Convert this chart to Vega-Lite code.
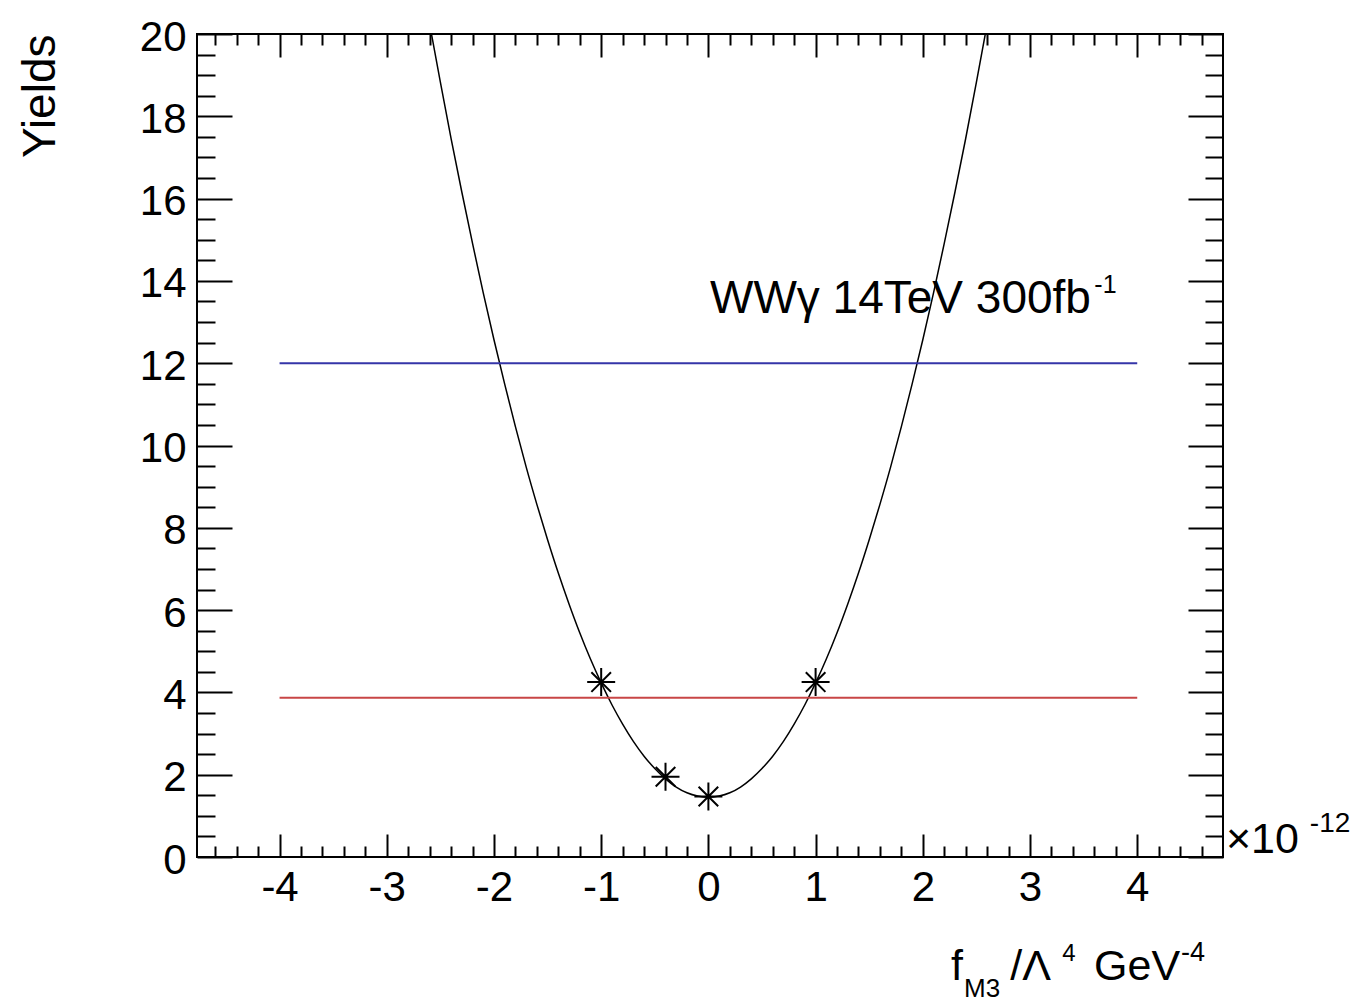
{
  "$schema": "https://vega.github.io/schema/vega-lite/v6.json",
  "width": 1026,
  "height": 823,
  "autosize": {"type": "none"},
  "padding": {"left": 197, "top": 34, "right": 139, "bottom": 147},
  "background": "white",
  "config": {
    "view": {"stroke": "black", "strokeWidth": 2},
    "axis": {"grid": false, "domain": false, "tickColor": "black", "tickWidth": 2, "labelFont": "Liberation Sans", "labelColor": "black", "labelFlush": false, "labelOverlap": false, "labelBound": false, "titleFont": "Liberation Sans", "titleColor": "black", "titleFontWeight": "normal"},
    "text": {"font": "Liberation Sans", "color": "black"}
  },
  "datasets": {
    "curve": [
      {"f": -2.6, "yields": 20.24}, {"f": -2.5, "yields": 18.83}, {"f": -2.4, "yields": 17.46}, {"f": -2.3, "yields": 16.16},
      {"f": -2.2, "yields": 14.91}, {"f": -2.1, "yields": 13.71}, {"f": -2.0, "yields": 12.57}, {"f": -1.9, "yields": 11.49},
      {"f": -1.8, "yields": 10.46}, {"f": -1.7, "yields": 9.48}, {"f": -1.6, "yields": 8.57}, {"f": -1.5, "yields": 7.71},
      {"f": -1.4, "yields": 6.90}, {"f": -1.3, "yields": 6.15}, {"f": -1.2, "yields": 5.45}, {"f": -1.1, "yields": 4.81},
      {"f": -1.0, "yields": 4.23}, {"f": -0.9, "yields": 3.70}, {"f": -0.8, "yields": 3.23}, {"f": -0.7, "yields": 2.81},
      {"f": -0.6, "yields": 2.45}, {"f": -0.5, "yields": 2.15}, {"f": -0.4, "yields": 1.90}, {"f": -0.3, "yields": 1.70},
      {"f": -0.2, "yields": 1.56}, {"f": -0.1, "yields": 1.48}, {"f": 0.0, "yields": 1.45}, {"f": 0.1, "yields": 1.48},
      {"f": 0.2, "yields": 1.56}, {"f": 0.3, "yields": 1.70}, {"f": 0.4, "yields": 1.90}, {"f": 0.5, "yields": 2.15},
      {"f": 0.6, "yields": 2.45}, {"f": 0.7, "yields": 2.81}, {"f": 0.8, "yields": 3.23}, {"f": 0.9, "yields": 3.70},
      {"f": 1.0, "yields": 4.23}, {"f": 1.1, "yields": 4.81}, {"f": 1.2, "yields": 5.45}, {"f": 1.3, "yields": 6.15},
      {"f": 1.4, "yields": 6.90}, {"f": 1.5, "yields": 7.71}, {"f": 1.6, "yields": 8.57}, {"f": 1.7, "yields": 9.48},
      {"f": 1.8, "yields": 10.46}, {"f": 1.9, "yields": 11.49}, {"f": 2.0, "yields": 12.57}, {"f": 2.1, "yields": 13.71},
      {"f": 2.2, "yields": 14.91}, {"f": 2.3, "yields": 16.16}, {"f": 2.4, "yields": 17.46}, {"f": 2.5, "yields": 18.83},
      {"f": 2.6, "yields": 20.24}
    ],
    "samples": [
      {"f": -1.0, "yields": 4.25}, {"f": -0.4, "yields": 1.95}, {"f": 0.0, "yields": 1.47}, {"f": 1.0, "yields": 4.25}
    ],
    "upper": [{"from": -4, "to": 4, "yields": 12.0}],
    "lower": [{"from": -4, "to": 4, "yields": 3.87}]
  },
  "layer": [
    {
      "data": {"name": "curve"},
      "mark": {"type": "line", "color": "black", "strokeWidth": 1.5, "clip": true, "interpolate": "monotone"},
      "encoding": {
        "x": {"field": "f", "type": "quantitative", "scale": {"domain": [-4.77, 4.8], "nice": false, "zero": false},
          "axis": {"orient": "bottom", "values": [-4, -3, -2, -1, 0, 1, 2, 3, 4], "tickSize": -23, "labelFontSize": 42, "labelPadding": 33, "labelExpr": "'' + datum.value", "title": null}},
        "y": {"field": "yields", "type": "quantitative", "scale": {"domain": [0, 20], "nice": false, "zero": false},
          "axis": {"orient": "left", "values": [0, 2, 4, 6, 8, 10, 12, 14, 16, 18, 20], "tickSize": -35, "labelFontSize": 42, "labelPadding": 46, "labelOffset": 3, "labelExpr": "'' + datum.value",
            "title": "Yields", "titleFontSize": 46, "titleAngle": -90, "titleAlign": "right", "titleBaseline": "alphabetic", "titleX": -143, "titleY": 0}}
      }
    },
    {
      "data": {"name": "upper"},
      "mark": {"type": "rule", "color": "#3535a8", "strokeWidth": 2},
      "encoding": {
        "x": {"field": "from", "type": "quantitative", "scale": {"domain": [-4.77, 4.8], "nice": false, "zero": false},
          "axis": {"orient": "bottom", "values": [-4.6, -4.4, -4.2, -3.8, -3.6, -3.4, -3.2, -2.8, -2.6, -2.4, -2.2, -1.8, -1.6, -1.4, -1.2, -0.8, -0.6, -0.4, -0.2, 0.2, 0.4, 0.6, 0.8, 1.2, 1.4, 1.6, 1.8, 2.2, 2.4, 2.6, 2.8, 3.2, 3.4, 3.6, 3.8, 4.2, 4.4, 4.6], "tickSize": -11, "labels": false, "title": null}},
        "x2": {"field": "to"},
        "y": {"field": "yields", "type": "quantitative", "scale": {"domain": [0, 20], "nice": false, "zero": false},
          "axis": {"orient": "left", "values": [0.5, 1, 1.5, 2.5, 3, 3.5, 4.5, 5, 5.5, 6.5, 7, 7.5, 8.5, 9, 9.5, 10.5, 11, 11.5, 12.5, 13, 13.5, 14.5, 15, 15.5, 16.5, 17, 17.5, 18.5, 19, 19.5], "tickSize": -18, "labels": false, "title": null}}
      }
    },
    {
      "data": {"name": "lower"},
      "mark": {"type": "rule", "color": "#c84646", "strokeWidth": 2},
      "encoding": {
        "x": {"field": "from", "type": "quantitative", "scale": {"domain": [-4.77, 4.8], "nice": false, "zero": false},
          "axis": {"orient": "top", "values": [-4.6, -4.4, -4.2, -3.8, -3.6, -3.4, -3.2, -2.8, -2.6, -2.4, -2.2, -1.8, -1.6, -1.4, -1.2, -0.8, -0.6, -0.4, -0.2, 0.2, 0.4, 0.6, 0.8, 1.2, 1.4, 1.6, 1.8, 2.2, 2.4, 2.6, 2.8, 3.2, 3.4, 3.6, 3.8, 4.2, 4.4, 4.6], "tickSize": -11, "labels": false, "title": null}},
        "x2": {"field": "to"},
        "y": {"field": "yields", "type": "quantitative", "scale": {"domain": [0, 20], "nice": false, "zero": false},
          "axis": {"orient": "right", "values": [0.5, 1, 1.5, 2.5, 3, 3.5, 4.5, 5, 5.5, 6.5, 7, 7.5, 8.5, 9, 9.5, 10.5, 11, 11.5, 12.5, 13, 13.5, 14.5, 15, 15.5, 16.5, 17, 17.5, 18.5, 19, 19.5], "tickSize": -18, "labels": false, "title": null}}
      }
    },
    {
      "data": {"name": "samples"},
      "mark": {"type": "point", "shape": "M-1,0L1,0M0,-1L0,1M-0.7,-0.7L0.7,0.7M-0.7,0.7L0.7,-0.7", "size": 784, "stroke": "black", "strokeWidth": 2, "filled": false, "opacity": 1},
      "encoding": {
        "x": {"field": "f", "type": "quantitative", "scale": {"domain": [-4.77, 4.8], "nice": false, "zero": false},
          "axis": {"orient": "top", "values": [-4, -3, -2, -1, 0, 1, 2, 3, 4], "tickSize": -23, "labels": false, "title": null}},
        "y": {"field": "yields", "type": "quantitative", "scale": {"domain": [0, 20], "nice": false, "zero": false},
          "axis": {"orient": "right", "values": [0, 2, 4, 6, 8, 10, 12, 14, 16, 18, 20], "tickSize": -35, "labels": false, "title": null}}
      }
    },
    {
      "data": {"values": [{"label": "WWγ 14TeV 300fb"}]},
      "mark": {"type": "text", "fontSize": 46, "align": "left", "baseline": "alphabetic"},
      "encoding": {
        "x": {"datum": 0.015, "type": "quantitative", "scale": {"domain": [-4.77, 4.8], "nice": false, "zero": false}, "axis": null},
        "y": {"datum": 13.22, "type": "quantitative", "scale": {"domain": [0, 20], "nice": false, "zero": false}, "axis": null},
        "text": {"field": "label"}
      }
    },
    {
      "data": {"values": [{"label": "-1"}]},
      "mark": {"type": "text", "fontSize": 25, "align": "left", "baseline": "alphabetic"},
      "encoding": {
        "x": {"datum": 3.6, "type": "quantitative", "scale": {"domain": [-4.77, 4.8], "nice": false, "zero": false}, "axis": null},
        "y": {"datum": 13.71, "type": "quantitative", "scale": {"domain": [0, 20], "nice": false, "zero": false}, "axis": null},
        "text": {"field": "label"}
      }
    },
    {
      "data": {"values": [{"label": "f"}]},
      "mark": {"type": "text", "fontSize": 43, "align": "left", "baseline": "alphabetic"},
      "encoding": {
        "x": {"datum": 2.263, "type": "quantitative", "scale": {"domain": [-4.77, 4.8], "nice": false, "zero": false}, "axis": null},
        "y": {"datum": -2.989, "type": "quantitative", "scale": {"domain": [0, 20], "nice": false, "zero": false}, "axis": null},
        "text": {"field": "label"}
      }
    },
    {
      "data": {"values": [{"label": "M3"}]},
      "mark": {"type": "text", "fontSize": 26, "align": "left", "baseline": "alphabetic"},
      "encoding": {
        "x": {"datum": 2.385, "type": "quantitative", "scale": {"domain": [-4.77, 4.8], "nice": false, "zero": false}, "axis": null},
        "y": {"datum": -3.41, "type": "quantitative", "scale": {"domain": [0, 20], "nice": false, "zero": false}, "axis": null},
        "text": {"field": "label"}
      }
    },
    {
      "data": {"values": [{"label": "/Λ"}]},
      "mark": {"type": "text", "fontSize": 43, "align": "left", "baseline": "alphabetic"},
      "encoding": {
        "x": {"datum": 2.815, "type": "quantitative", "scale": {"domain": [-4.77, 4.8], "nice": false, "zero": false}, "axis": null},
        "y": {"datum": -2.989, "type": "quantitative", "scale": {"domain": [0, 20], "nice": false, "zero": false}, "axis": null},
        "text": {"field": "label"}
      }
    },
    {
      "data": {"values": [{"label": "4"}]},
      "mark": {"type": "text", "fontSize": 24, "align": "left", "baseline": "alphabetic"},
      "encoding": {
        "x": {"datum": 3.3, "type": "quantitative", "scale": {"domain": [-4.77, 4.8], "nice": false, "zero": false}, "axis": null},
        "y": {"datum": -2.527, "type": "quantitative", "scale": {"domain": [0, 20], "nice": false, "zero": false}, "axis": null},
        "text": {"field": "label"}
      }
    },
    {
      "data": {"values": [{"label": "GeV"}]},
      "mark": {"type": "text", "fontSize": 43, "align": "left", "baseline": "alphabetic"},
      "encoding": {
        "x": {"datum": 3.597, "type": "quantitative", "scale": {"domain": [-4.77, 4.8], "nice": false, "zero": false}, "axis": null},
        "y": {"datum": -2.989, "type": "quantitative", "scale": {"domain": [0, 20], "nice": false, "zero": false}, "axis": null},
        "text": {"field": "label"}
      }
    },
    {
      "data": {"values": [{"label": "-4"}]},
      "mark": {"type": "text", "fontSize": 27, "align": "left", "baseline": "alphabetic"},
      "encoding": {
        "x": {"datum": 4.408, "type": "quantitative", "scale": {"domain": [-4.77, 4.8], "nice": false, "zero": false}, "axis": null},
        "y": {"datum": -2.527, "type": "quantitative", "scale": {"domain": [0, 20], "nice": false, "zero": false}, "axis": null},
        "text": {"field": "label"}
      }
    },
    {
      "data": {"values": [{"label": "×10"}]},
      "mark": {"type": "text", "fontSize": 43, "align": "left", "baseline": "alphabetic"},
      "encoding": {
        "x": {"datum": 4.828, "type": "quantitative", "scale": {"domain": [-4.77, 4.8], "nice": false, "zero": false}, "axis": null},
        "y": {"datum": 0.097, "type": "quantitative", "scale": {"domain": [0, 20], "nice": false, "zero": false}, "axis": null},
        "text": {"field": "label"}
      }
    },
    {
      "data": {"values": [{"label": "-12"}]},
      "mark": {"type": "text", "fontSize": 28, "align": "left", "baseline": "alphabetic"},
      "encoding": {
        "x": {"datum": 5.61, "type": "quantitative", "scale": {"domain": [-4.77, 4.8], "nice": false, "zero": false}, "axis": null},
        "y": {"datum": 0.608, "type": "quantitative", "scale": {"domain": [0, 20], "nice": false, "zero": false}, "axis": null},
        "text": {"field": "label"}
      }
    }
  ],
  "resolve": {"axis": {"x": "independent", "y": "independent"}}
}
